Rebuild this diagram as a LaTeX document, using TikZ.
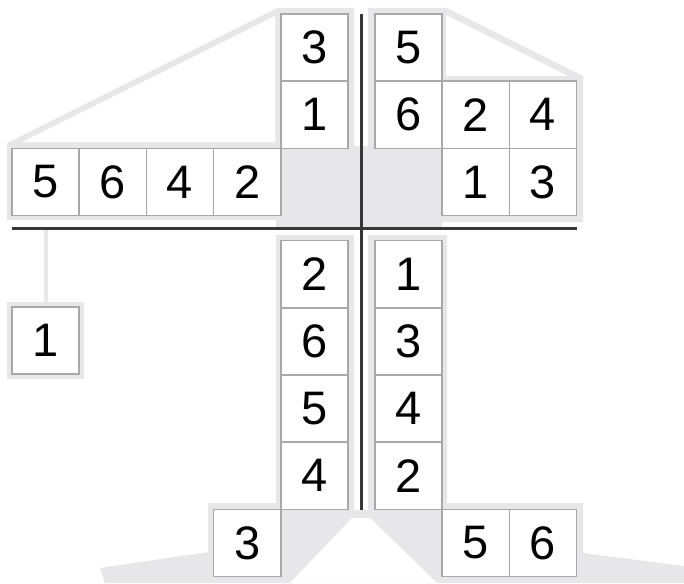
\documentclass[tikz,border=0pt]{standalone}
\usepackage{fontspec}
\setmainfont{Liberation Sans}
\definecolor{bgshade}{RGB}{231,231,233}
\definecolor{cellline}{RGB}{168,168,168}
\definecolor{axiscol}{RGB}{55,55,55}
\begin{document}
\begin{tikzpicture}[x=1pt,y=-1pt,
  cell/.style={draw=cellline,line width=1.6pt,fill=white,minimum size=67.2pt,inner sep=0pt,font=\fontsize{47}{47}\selectfont},
  axisline/.style={draw=axiscol,line width=3pt},
  leader/.style={draw=bgshade,line width=4pt}]
\useasboundingbox (0,0) rectangle (684,583);
% shaded backgrounds
\fill[bgshade] (7,143) -- (277,8) -- (354,8) -- (354,146) -- (361,146) -- (361,228) -- (276,228) -- (276,220) -- (7,220) -- cycle;
\fill[white] (22,142) -- (275,16) -- (275,142) -- cycle;
\fill[bgshade] (368,8) -- (447,8) -- (583,76) -- (583,222) -- (442,222) -- (442,228) -- (361,228) -- (361,146) -- (368,146) -- cycle;
\fill[white] (446,15) -- (568,76) -- (446,76) -- cycle;
\fill[bgshade] (276,235) -- (354,235) -- (354,510) -- (368,510) -- (368,235) -- (447,235) -- (447,503) -- (583,503) -- (583,553) -- (684,566) -- (684,583) -- (105,583) -- (100,568) -- (208,552) -- (208,503) -- (276,503) -- cycle;
\fill[white] (352,518) -- (370,518) -- (437,583) -- (290,583) -- cycle;
\fill[bgshade] (7,302) rectangle (84,379);
% axes
\coordinate (hL) at (12,228);
\coordinate (hR) at (577,228);
\coordinate (vT) at (361,14);
\coordinate (vB) at (361,510);
\coordinate (g1) at (45.6,228);
% cells
\node[cell] (L1) at (45.6,340.6) {1};
\draw[leader] (g1) -- (L1.north);
\draw[axisline] (hL) -- (hR);
\draw[axisline] (vT) -- (vB);
% top left
\node[cell] (TL3) at (314.4,47.6) {3};
\node[cell] (TL1) at (314.4,114.8) {1};
\node[cell] (TLa) at (45.6,182) {5};
\node[cell] (TLb) at (112.8,182) {6};
\node[cell] (TLc) at (180,182) {4};
\node[cell] (TLd) at (247.2,182) {2};
% top right
\node[cell] (TR5) at (408.6,47.6) {5};
\node[cell] (TR6) at (408.6,114.8) {6};
\node[cell] (TR2) at (475.8,114.8) {2};
\node[cell] (TR4) at (543,114.8) {4};
\node[cell] (TR1) at (475.8,182) {1};
\node[cell] (TR3) at (543,182) {3};
% bottom left
\node[cell] (BLa) at (314.4,274.1) {2};
\node[cell] (BLb) at (314.4,341.3) {6};
\node[cell] (BLc) at (314.4,408.5) {5};
\node[cell] (BLd) at (314.4,475.7) {4};
\node[cell] (BL3) at (247.2,542.9) {3};
% bottom right
\node[cell] (BRa) at (408.6,274.1) {1};
\node[cell] (BRb) at (408.6,341.3) {3};
\node[cell] (BRc) at (408.6,408.5) {4};
\node[cell] (BRd) at (408.6,475.7) {2};
\node[cell] (BR5) at (475.8,542.9) {5};
\node[cell] (BR6) at (543,542.9) {6};
\end{tikzpicture}
\end{document}
